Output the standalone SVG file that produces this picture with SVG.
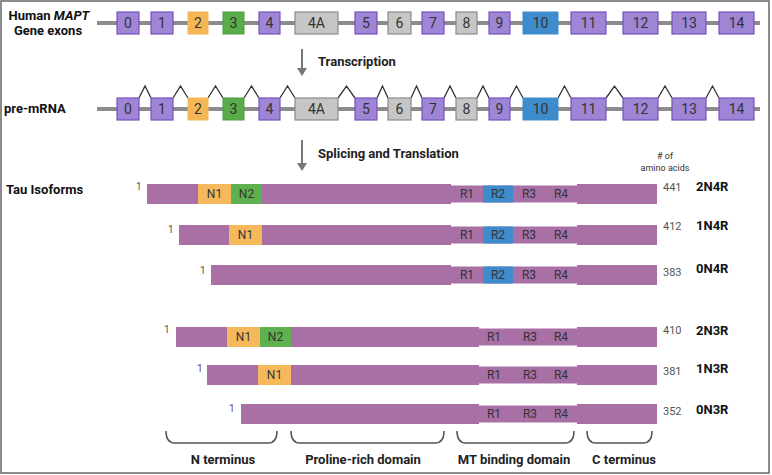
<svg xmlns="http://www.w3.org/2000/svg" width="772" height="475" viewBox="0 0 772 475">
<style>
text{font-family:Roboto,"Liberation Sans",sans-serif}
.lbl{font-weight:bold;font-size:13px;fill:#111}
.step{font-weight:bold;font-size:13px;fill:#222}
.ex{font-size:14px;fill:#333;text-anchor:middle}
.pu{fill:#9e85d6;stroke:#7553bd;stroke-width:1.2}
.or{fill:#f5b656;stroke:#f5b656;stroke-width:1}
.gr{fill:#5aab4a;stroke:#4f9c40;stroke-width:1}
.gy{fill:#c6c6c6;stroke:#8a8a8a;stroke-width:1.2}
.bl{fill:#3e8ccb;stroke:#3e8ccb;stroke-width:1}
.wire{stroke:#8c8c8c;stroke-width:4}
.caret{fill:none;stroke:#333;stroke-width:1.3}
.arr{stroke:#777;stroke-width:2}
.ahd{fill:#777}
.bar{fill:#a970a6}
.n1{fill:#f5b95c}
.n2{fill:#5fb150}
.r2{fill:#3e8ccb}
.seg{font-size:12px;fill:#333;text-anchor:middle}
.one{font-size:10px;fill:#555}
.aa{font-size:11px;fill:#555}
.name{font-weight:bold;font-size:13px;fill:#111}
.brace{fill:none;stroke:#555;stroke-width:1.5}
.dom{font-weight:bold;font-size:13px;fill:#222;text-anchor:middle}
</style>
<rect x="1" y="1" width="768" height="472" fill="#fff" stroke="#666" stroke-width="1.5"/>

<g id="labels">
<text class="lbl" x="49" y="20" text-anchor="middle">Human <tspan font-style="italic">MAPT</tspan></text>
<text class="lbl" x="48" y="35" text-anchor="middle">Gene exons</text>
<text class="lbl" x="4" y="113">pre-mRNA</text>
<text class="lbl" x="6" y="194">Tau Isoforms</text>
</g>

<g id="connectors">
<line class="wire" x1="97" y1="23" x2="760" y2="23"/>
<line class="wire" x1="97" y1="109" x2="760" y2="109"/>
<line class="arr" x1="302" y1="49" x2="302" y2="69"/>
<polygon class="ahd" points="297,68 307,68 302,76"/>
<line class="arr" x1="302" y1="140" x2="302" y2="164"/>
<polygon class="ahd" points="297,163 307,163 302,171"/>
<path class="caret" d="M139,98 L145,86 L151,98 M173,98 L180.5,86 L188,98 M208,98 L215.5,86 L223,98 M244,98 L251.5,86 L259,98 M280,98 L287.5,86 L295,98 M338,98 L346.5,86 L355,98 M377,98 L382.5,86 L388,98 M411,98 L416.5,86 L422,98 M444,98 L450,86 L456,98 M477,98 L483,86 L489,98 M510,98 L516.5,86 L523,98 M558,98 L564.5,86 L571,98 M606,98 L614.5,86 L623,98 M658,98 L665,86 L672,98 M706,98 L712.5,86 L719,98"/>
</g>

<g id="steps">
<text class="step" x="318" y="66">Transcription</text>
<text class="step" x="318" y="158">Splicing and Translation</text>
</g>

<g id="gene-exons">
<rect class="pu" x="117" y="12" width="22" height="22"/><text class="ex" x="128" y="28">0</text>
<rect class="pu" x="151" y="12" width="22" height="22"/><text class="ex" x="162" y="28">1</text>
<rect class="or" x="188" y="12" width="20" height="22"/><text class="ex" x="198" y="28">2</text>
<rect class="gr" x="223" y="12" width="21" height="22"/><text class="ex" x="233.5" y="28">3</text>
<rect class="pu" x="259" y="12" width="21" height="22"/><text class="ex" x="269.5" y="28">4</text>
<rect class="gy" x="295" y="12" width="43" height="22"/><text class="ex" x="316.5" y="28">4A</text>
<rect class="pu" x="355" y="12" width="22" height="22"/><text class="ex" x="366" y="28">5</text>
<rect class="gy" x="388" y="12" width="23" height="22"/><text class="ex" x="399.5" y="28">6</text>
<rect class="pu" x="422" y="12" width="22" height="22"/><text class="ex" x="433" y="28">7</text>
<rect class="gy" x="456" y="12" width="21" height="22"/><text class="ex" x="466.5" y="28">8</text>
<rect class="pu" x="489" y="12" width="21" height="22"/><text class="ex" x="499.5" y="28">9</text>
<rect class="bl" x="523" y="12" width="35" height="22"/><text class="ex" x="540.5" y="28">10</text>
<rect class="pu" x="571" y="12" width="35" height="22"/><text class="ex" x="588.5" y="28">11</text>
<rect class="pu" x="623" y="12" width="35" height="22"/><text class="ex" x="640.5" y="28">12</text>
<rect class="pu" x="672" y="12" width="34" height="22"/><text class="ex" x="689" y="28">13</text>
<rect class="pu" x="719" y="12" width="35" height="22"/><text class="ex" x="736.5" y="28">14</text>
</g>

<g id="pre-mrna">
<rect class="pu" x="117" y="98" width="22" height="22"/><text class="ex" x="128" y="114">0</text>
<rect class="pu" x="151" y="98" width="22" height="22"/><text class="ex" x="162" y="114">1</text>
<rect class="or" x="188" y="98" width="20" height="22"/><text class="ex" x="198" y="114">2</text>
<rect class="gr" x="223" y="98" width="21" height="22"/><text class="ex" x="233.5" y="114">3</text>
<rect class="pu" x="259" y="98" width="21" height="22"/><text class="ex" x="269.5" y="114">4</text>
<rect class="gy" x="295" y="98" width="43" height="22"/><text class="ex" x="316.5" y="114">4A</text>
<rect class="pu" x="355" y="98" width="22" height="22"/><text class="ex" x="366" y="114">5</text>
<rect class="gy" x="388" y="98" width="23" height="22"/><text class="ex" x="399.5" y="114">6</text>
<rect class="pu" x="422" y="98" width="22" height="22"/><text class="ex" x="433" y="114">7</text>
<rect class="gy" x="456" y="98" width="21" height="22"/><text class="ex" x="466.5" y="114">8</text>
<rect class="pu" x="489" y="98" width="21" height="22"/><text class="ex" x="499.5" y="114">9</text>
<rect class="bl" x="523" y="98" width="35" height="22"/><text class="ex" x="540.5" y="114">10</text>
<rect class="pu" x="571" y="98" width="35" height="22"/><text class="ex" x="588.5" y="114">11</text>
<rect class="pu" x="623" y="98" width="35" height="22"/><text class="ex" x="640.5" y="114">12</text>
<rect class="pu" x="672" y="98" width="34" height="22"/><text class="ex" x="689" y="114">13</text>
<rect class="pu" x="719" y="98" width="35" height="22"/><text class="ex" x="736.5" y="114">14</text>
</g>

<g id="aa-header">
<text x="665" y="159" font-size="9" fill="#333" text-anchor="middle">
<tspan x="665">#&#160;of</tspan><tspan x="665" dy="12">amino acids</tspan></text>
</g>

<g id="iso-2N4R">
<rect class="bar" x="147" y="184" width="304" height="20"/>
<rect class="n1" x="198" y="184" width="33" height="20"/><rect class="n2" x="231" y="184" width="31" height="20"/>
<rect class="bar" x="451" y="185.5" width="126" height="17"/><rect class="r2" x="483" y="185.5" width="30" height="17"/>
<rect class="bar" x="577" y="184" width="80" height="20"/>
<text class="seg" x="214.5" y="198">N1</text><text class="seg" x="246.5" y="198">N2</text>
<text class="seg" x="467" y="198">R1</text><text class="seg" x="498" y="198">R2</text><text class="seg" x="529" y="198">R3</text><text class="seg" x="561" y="198">R4</text>
<text class="one" x="136" y="190">1</text><text class="aa" x="663" y="191">441</text><text class="name" x="696" y="191">2N4R</text>
</g>

<g id="iso-1N4R">
<rect class="bar" x="179" y="225" width="272" height="20"/>
<rect class="n1" x="229" y="225" width="33" height="20"/>
<rect class="bar" x="451" y="226.5" width="126" height="17"/><rect class="r2" x="483" y="226.5" width="30" height="17"/>
<rect class="bar" x="577" y="225" width="80" height="20"/>
<text class="seg" x="245.5" y="239">N1</text>
<text class="seg" x="467" y="239">R1</text><text class="seg" x="498" y="239">R2</text><text class="seg" x="529" y="239">R3</text><text class="seg" x="561" y="239">R4</text>
<text class="one" x="168" y="233">1</text><text class="aa" x="663" y="230">412</text><text class="name" x="696" y="230">1N4R</text>
</g>

<g id="iso-0N4R">
<rect class="bar" x="211" y="265" width="240" height="20"/>
<rect class="bar" x="451" y="266.5" width="126" height="17"/><rect class="r2" x="483" y="266.5" width="30" height="17"/>
<rect class="bar" x="577" y="265" width="80" height="20"/>
<text class="seg" x="467" y="279">R1</text><text class="seg" x="498" y="279">R2</text><text class="seg" x="529" y="279">R3</text><text class="seg" x="561" y="279">R4</text>
<text class="one" x="200" y="274">1</text><text class="aa" x="663" y="276">383</text><text class="name" x="696" y="273">0N4R</text>
</g>

<g id="iso-2N3R">
<rect class="bar" x="176" y="327" width="303" height="20"/>
<rect class="n1" x="227" y="327" width="33" height="20"/><rect class="n2" x="260" y="327" width="31" height="20"/>
<rect class="bar" x="479" y="328.5" width="98" height="17"/>
<rect class="bar" x="577" y="327" width="80" height="20"/>
<text class="seg" x="243.5" y="341">N1</text><text class="seg" x="275.5" y="341">N2</text>
<text class="seg" x="494" y="341">R1</text><text class="seg" x="530" y="341">R3</text><text class="seg" x="561" y="341">R4</text>
<text class="one" x="164" y="333">1</text><text class="aa" x="663" y="334">410</text><text class="name" x="696" y="335">2N3R</text>
</g>

<g id="iso-1N3R">
<rect class="bar" x="207" y="365" width="272" height="20"/>
<rect class="n1" x="258" y="365" width="33" height="20"/>
<rect class="bar" x="479" y="366.5" width="98" height="17"/>
<rect class="bar" x="577" y="365" width="80" height="20"/>
<text class="seg" x="274.5" y="379">N1</text>
<text class="seg" x="494" y="379">R1</text><text class="seg" x="530" y="379">R3</text><text class="seg" x="561" y="379">R4</text>
<text class="one" x="197" y="372">1</text><text class="aa" x="663" y="375">381</text><text class="name" x="696" y="373">1N3R</text>
</g>

<g id="iso-0N3R">
<rect class="bar" x="241" y="404" width="238" height="20"/>
<rect class="bar" x="479" y="405.5" width="98" height="17"/>
<rect class="bar" x="577" y="404" width="80" height="20"/>
<text class="seg" x="494" y="418">R1</text><text class="seg" x="530" y="418">R3</text><text class="seg" x="561" y="418">R4</text>
<text class="one" x="229" y="412">1</text><text class="aa" x="663" y="415">352</text><text class="name" x="696" y="414">0N3R</text>
</g>

<g id="domains">
<path class="brace" d="M166,431 Q166,443 175,443 L268,443 Q277,443 277,431"/>
<path class="brace" d="M291,431 Q291,443 300,443 L435,443 Q444,443 444,431"/>
<path class="brace" d="M457,431 Q457,443 466,443 L565,443 Q574,443 574,431"/>
<path class="brace" d="M587,431 Q587,443 596,443 L643,443 Q652,443 652,431"/>
<text class="dom" x="223" y="464">N terminus</text>
<text class="dom" x="363" y="464">Proline-rich domain</text>
<text class="dom" x="514" y="464">MT binding domain</text>
<text class="dom" x="624" y="464">C terminus</text>
</g>
</svg>
